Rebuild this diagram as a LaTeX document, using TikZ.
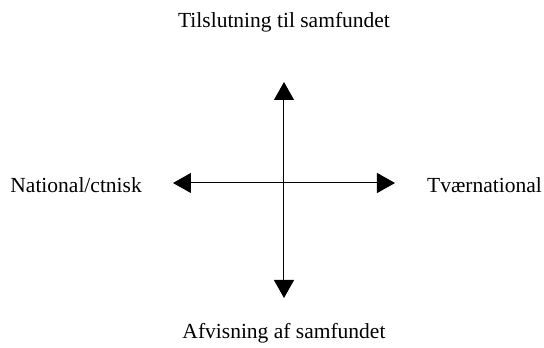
\documentclass[tikz,border=0pt]{standalone}
\usepackage{fontspec}
\setmainfont{Liberation Serif}
\usetikzlibrary{arrows.meta,positioning}

\tikzset{akse/.style = {line width=1pt, {Triangle[length=18pt,width=20pt]}-{Triangle[length=18pt,width=20pt]}},
         etiket/.style = {font=\fontsize{21.5}{25}\selectfont, inner sep=0pt}
        }

\begin{document}
\begin{tikzpicture}[x=1pt,y=1pt]
  \useasboundingbox (-284,-165) rectangle (260,183);
  \coordinate (centrum) at (0,0);
  \coordinate (top) at (0,101);
  \coordinate (bund) at (0,-115);
  \coordinate (venstre) at (-111,0);
  \coordinate (hoejre) at (111,0);
  \draw[akse] (bund) -- (top);
  \draw[akse] (venstre) -- (hoejre);
  \node[etiket] (tilslutning) at (0,161) {Tilslutning til samfundet};
  \node[etiket] (afvisning) at (0,-150) {Afvisning af samfundet};
  \node[etiket, anchor=east] (national) at (-142,-2) {National/ctnisk};
  \node[etiket, anchor=west] (tvaer) at (143,-2) {Tværnational};
\end{tikzpicture}
\end{document}
